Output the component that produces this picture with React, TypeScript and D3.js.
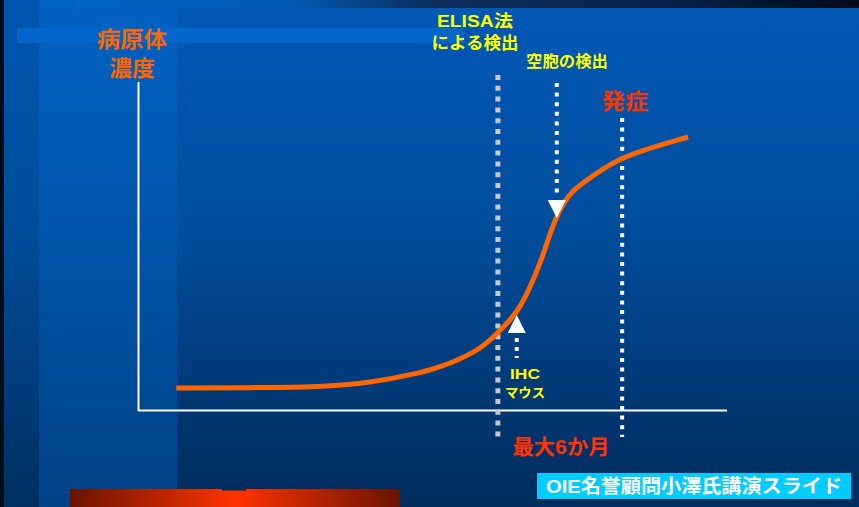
import React from "react";
import * as d3 from "d3";

// ---- data ----
const curveTime = [0.65, 1.9, 3.09, 3.94, 4.79, 5.13, 5.47, 5.81, 6.11, 6.32, 6.49, 6.66, 6.83, 6.96, 7.08, 7.22, 7.39, 7.62, 7.84, 8.2, 8.69, 9.34];
const curveConc = [6.71, 6.8, 7.01, 8.23, 11.28, 13.11, 15.55, 18.6, 23.48, 27.44, 31.4, 37.5, 44.82, 51.83, 57.93, 63.11, 67.07, 70.12, 72.87, 76.83, 79.88, 83.23];
const elisaTime = 6.11;
const vacuoleTime = 7.11;
const onsetTime = 8.22;
const ihcTime = 6.43;
const yLabel = ["病原体", "濃度"];
const elisaLabel = ["ELISA法", "による検出"];
const vacuoleLabel = "空胞の検出";
const onsetLabel = "発症";
const ihcLabel = ["IHC", "マウス"];
const durationLabel = "最大6か月";
const creditLabel = "OIE名誉顧問小澤氏講演スライド";

const W = 859;
const H = 507;
const FONT = "'Liberation Sans', 'Noto Sans CJK JP', sans-serif";
const CJK = "'Noto Sans CJK JP', sans-serif";

export default function App() {
  const x = d3.scaleLinear().domain([0, 10]).range([138, 727]);
  const y = d3.scaleLinear().domain([0, 100]).range([410, 82]);
  const pts: [number, number][] = curveTime.map((t, i) => [t, curveConc[i]]);
  const line = d3
    .line<[number, number]>()
    .x((d) => x(d[0]))
    .y((d) => y(d[1]))
    .curve(d3.curveBasis);

  const xe = x(elisaTime);
  const xv = x(vacuoleTime);
  const xo = x(onsetTime);
  const xi = x(ihcTime);

  return (
    <svg
      width={W}
      height={H}
      style={{ position: "absolute", left: 0, top: 0, display: "block" }}
    >
      <defs>
        <linearGradient id="bgMain" x1="0" y1="0" x2="0" y2="1">
          <stop offset="0" stopColor="#0059b6" />
          <stop offset="0.45" stopColor="#004d9c" />
          <stop offset="1" stopColor="#002b5c" />
        </linearGradient>
        <linearGradient id="bgCol" x1="0" y1="0" x2="0" y2="1">
          <stop offset="0" stopColor="#0062c4" />
          <stop offset="0.45" stopColor="#0055aa" />
          <stop offset="1" stopColor="#004286" />
        </linearGradient>
        <linearGradient id="bgStrip" x1="0" y1="0" x2="0" y2="1">
          <stop offset="0" stopColor="#0056ae" />
          <stop offset="0.45" stopColor="#004d9a" />
          <stop offset="1" stopColor="#002f62" />
        </linearGradient>
        <linearGradient id="topBand" x1="0" y1="0" x2="1" y2="0">
          <stop offset="0" stopColor="#0064c8" />
          <stop offset="0.28" stopColor="#0059b0" />
          <stop offset="0.45" stopColor="#0b2f5e" />
          <stop offset="0.75" stopColor="#06224a" />
          <stop offset="1" stopColor="#000a18" />
        </linearGradient>
        <linearGradient id="redBar" x1="0" y1="0" x2="1" y2="0">
          <stop offset="0" stopColor="#6a1300" />
          <stop offset="0.5" stopColor="#ff3300" />
          <stop offset="1" stopColor="#6a1300" />
        </linearGradient>
      </defs>

      {/* background */}
      <rect x={0} y={0} width={W} height={H} fill="url(#bgMain)" />
      <rect x={4} y={0} width={35} height={H} fill="url(#bgStrip)" />
      <rect x={39} y={0} width={138} height={H} fill="url(#bgCol)" />
      <rect x={75} y={0} width={W - 75} height={8} fill="url(#topBand)" />
      <rect x={17} y={28} width={447} height={15} fill="#0066cc" />
      <rect x={0} y={0} width={4} height={H} fill="#000c18" />
      <rect x={70} y={489} width={330} height={18} fill="url(#redBar)" />
      <rect x={222} y={489} width={24} height={1.5} fill="#002b5c" />

      {/* axes */}
      <line x1={138.5} y1={82} x2={138.5} y2={411} stroke="#fff" strokeWidth={2} />
      <line x1={138} y1={410.5} x2={727} y2={410.5} stroke="#fff" strokeWidth={2} />

      {/* marker lines */}
      <line x1={xe} y1={75} x2={xe} y2={437} stroke="#c8c8c8" strokeWidth={5} strokeDasharray="5 5.8" />
      <line x1={xo} y1={118} x2={xo} y2={437} stroke="#fff" strokeWidth={4} strokeDasharray="4 5.6" />
      <line x1={xv} y1={83} x2={xv} y2={198} stroke="#fff" strokeWidth={4} strokeDasharray="4 5.6" />

      {/* curve */}
      <path d={line(pts) || ""} fill="none" stroke="#ff6600" strokeWidth={5} />

      {/* arrows */}
      <path d={`M${xv - 9},200 L${xv + 9},200 L${xv},218 Z`} fill="#fff" />
      <path d={`M${xi - 9},333 L${xi + 9},333 L${xi},315 Z`} fill="#fff" />
      <line x1={xi} y1={338} x2={xi} y2={358} stroke="#fff" strokeWidth={4} strokeDasharray="4 5" />

      {/* labels */}
      <g fontFamily={CJK} fontWeight="bold" fill="#ff6600" textAnchor="middle">
        <text x={132} y={47} fontSize={22} textLength={70} lengthAdjust="spacingAndGlyphs">{yLabel[0]}</text>
        <text x={132} y={76} fontSize={22} textLength={46} lengthAdjust="spacingAndGlyphs">{yLabel[1]}</text>
      </g>
      <g fontFamily={FONT} fontWeight="bold" fill="#ffff00" textAnchor="middle">
        <text x={475} y={27} fontSize={17} textLength={76} lengthAdjust="spacingAndGlyphs">{elisaLabel[0]}</text>
        <text x={475} y={49} fontSize={17} textLength={87} lengthAdjust="spacingAndGlyphs">{elisaLabel[1]}</text>
        <text x={567} y={67} fontSize={16} textLength={82} lengthAdjust="spacingAndGlyphs">{vacuoleLabel}</text>
        <text x={525} y={379} fontSize={15} textLength={30} lengthAdjust="spacingAndGlyphs">{ihcLabel[0]}</text>
        <text x={525} y={397} fontSize={13} textLength={40} lengthAdjust="spacingAndGlyphs">{ihcLabel[1]}</text>
      </g>
      <g fontFamily={FONT} fontWeight="bold" fill="#ff3300" textAnchor="middle">
        <text x={625} y={109} fontSize={22} textLength={47} lengthAdjust="spacingAndGlyphs">{onsetLabel}</text>
        <text x={561} y={454} fontSize={21} textLength={97} lengthAdjust="spacingAndGlyphs">{durationLabel}</text>
      </g>

      {/* credit box */}
      <rect x={537} y={473} width={314} height={26} fill="#00ccff" />
      <text
        x={694}
        y={493}
        fontFamily={FONT}
        fontWeight="bold"
        fontSize={19}
        fill="#fff"
        textAnchor="middle"
        textLength={296}
        lengthAdjust="spacingAndGlyphs"
      >
        {creditLabel}
      </text>
    </svg>
  );
}
